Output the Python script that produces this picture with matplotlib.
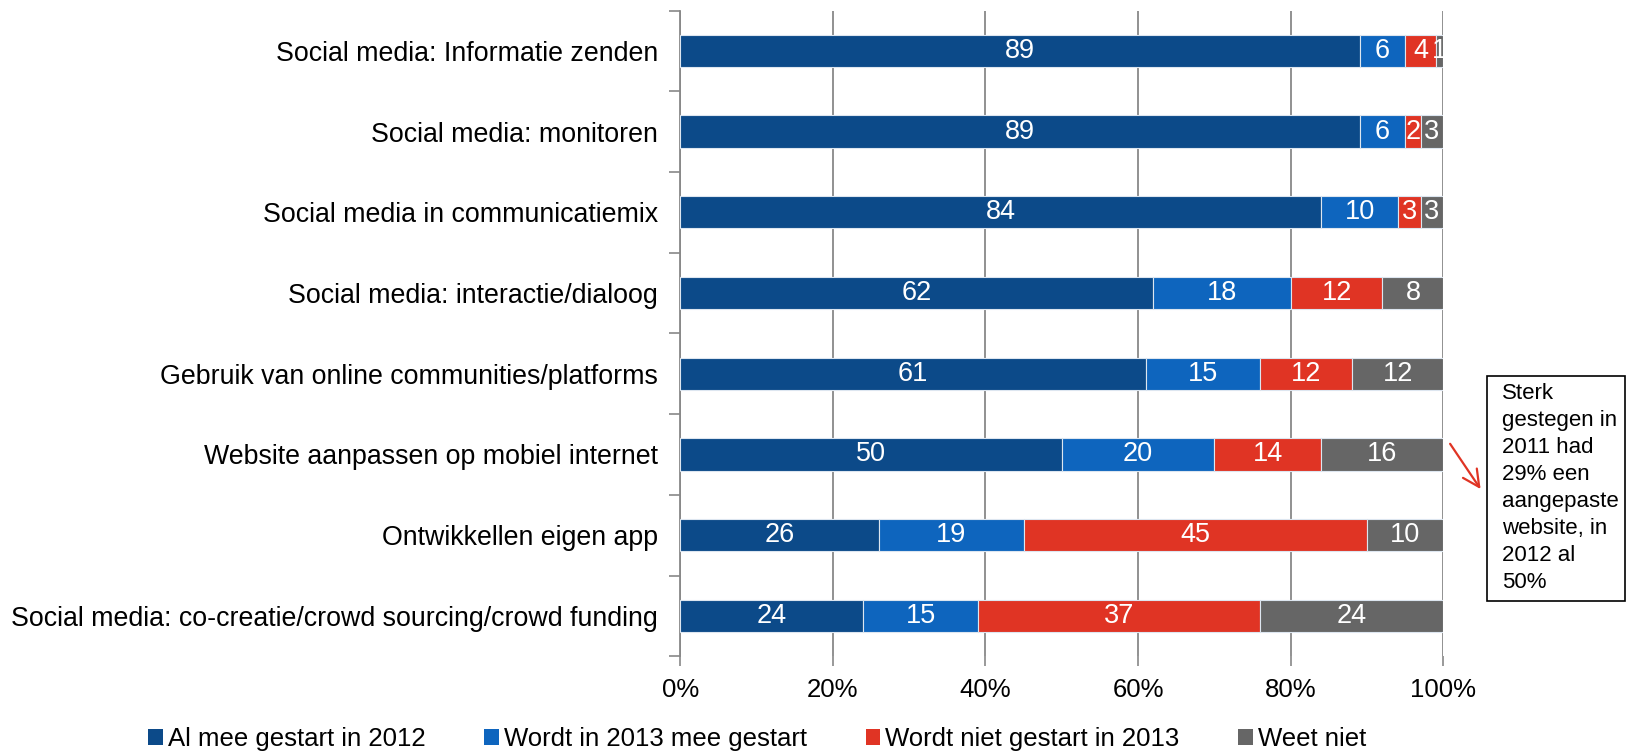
import matplotlib
matplotlib.use("Agg")
import matplotlib.pyplot as plt
import numpy as np
from matplotlib.patches import Patch

categories = [
    "Social media: Informatie zenden",
    "Social media: monitoren",
    "Social media in communicatiemix",
    "Social media: interactie/dialoog",
    "Gebruik van online communities/platforms",
    "Website aanpassen op mobiel internet",
    "Ontwikkellen eigen app",
    "Social media: co-creatie/crowd sourcing/crowd funding",
]
series_names = ["Al mee gestart in 2012", "Wordt in 2013 mee gestart",
                "Wordt niet gestart in 2013", "Weet niet"]
al_mee = [89, 89, 84, 62, 61, 50, 26, 24]
in_2013 = [6, 6, 10, 18, 15, 20, 19, 15]
niet_2013 = [4, 2, 3, 12, 12, 14, 45, 37]
weet_niet = [1, 3, 3, 8, 12, 16, 10, 24]
x_ticks = [0, 20, 40, 60, 80, 100]
x_ticklabels = ["0%", "20%", "40%", "60%", "80%", "100%"]
note = "Sterk\ngestegen in\n2011 had\n29% een\naangepaste\nwebsite, in\n2012 al\n50%"

colors = ["#0C4A89", "#0E65BE", "#E03424", "#666666"]

plt.rcParams['font.family'] = ['Liberation Sans', 'DejaVu Sans']

fig = plt.figure(figsize=(16.39, 7.56), dpi=100)
ax = fig.add_axes([0.415, 0.132, 0.4657, 0.854])

y = np.arange(len(categories))
left = np.zeros(len(categories))
data = [al_mee, in_2013, niet_2013, weet_niet]
for vals, col in zip(data, colors):
    vals = np.array(vals, dtype=float)
    ax.barh(y, vals, left=left, height=0.4, color=col, edgecolor="#DDE6F0",
            linewidth=0.8, zorder=3)
    for yi, l, v in zip(y, left, vals):
        ax.text(l + v / 2, yi, f"{int(v)}", ha="center", va="center",
                color="white", fontsize=19.5, zorder=4, clip_on=True)
    left += vals

ax.set_xlim(0, 100)
ax.set_ylim(len(categories) - 0.5, -0.5)
ax.set_xticks(x_ticks)
ax.set_xticklabels(x_ticklabels, fontsize=18.5)
ax.set_yticks(y)
ax.set_yticklabels(categories, fontsize=19.25)
ax.set_yticks(np.arange(len(categories) + 1) - 0.5, minor=True)
ax.tick_params(axis="y", which="major", length=0, pad=16)
ax.tick_params(axis="y", which="minor", length=8, width=1.2, color="#888888", direction="out")
ax.tick_params(axis="x", which="major", length=7, width=1.2, color="#888888", direction="out", pad=9)
ax.grid(axis="x", color="#888888", linewidth=1.3, zorder=0)
ax.set_axisbelow(True)
for s in ["top", "right", "bottom"]:
    ax.spines[s].set_visible(False)
ax.spines["left"].set_color("#888888")
ax.spines["left"].set_linewidth(1.3)

# annotation box
fig.text(0.9163, 0.494, note, fontsize=16, ha="left", va="top", linespacing=1.38)
box = plt.Rectangle((0.9073, 0.205), 0.0842, 0.298, transform=fig.transFigure,
                    fill=False, edgecolor="black", linewidth=1.2)
fig.patches.append(box)
ax.annotate("", xy=(0.9043, 0.350), xycoords="figure fraction",
            xytext=(0.8838, 0.416), textcoords="figure fraction",
            arrowprops=dict(arrowstyle="->,head_length=1.2,head_width=0.6",
                            color="#E03424", lw=1.6))

handles = [Patch(facecolor=c, edgecolor="none") for c in colors]
fig.legend(handles, series_names, loc="lower center", bbox_to_anchor=(0.462, -0.024),
           ncol=4, frameon=False, fontsize=18.5, handlelength=0.55, handleheight=0.55,
           handletextpad=0.2, columnspacing=2.3)

fig.savefig("out.png", dpi=100)
